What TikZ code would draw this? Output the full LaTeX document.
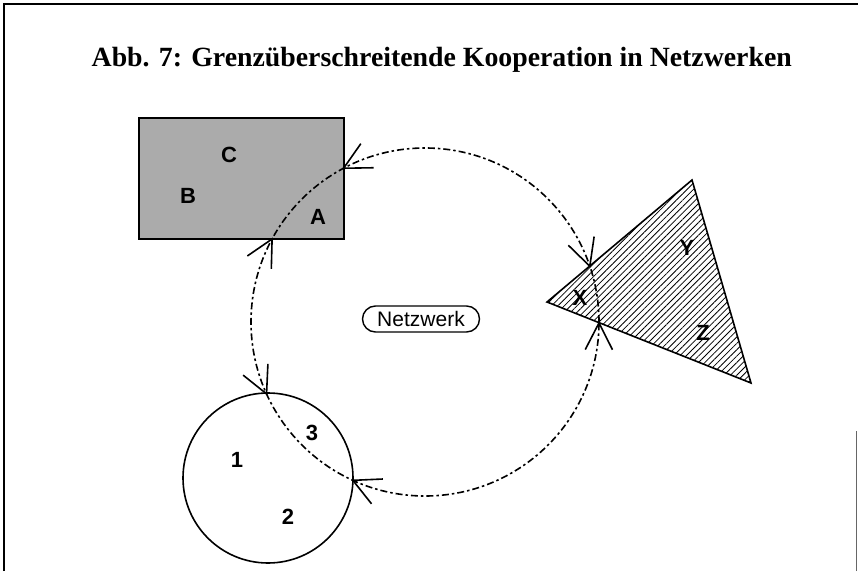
\documentclass[tikz,border=0pt]{standalone}
\usepackage{fontspec}
\usepackage{graphicx}
\setmainfont{Liberation Serif}
\setsansfont{Liberation Sans}
\usetikzlibrary{patterns.meta}
\begin{document}
\begin{tikzpicture}[x=1pt,y=1pt,
  lbl/.style={font=\sffamily\bfseries\fontsize{22}{24}\selectfont, inner sep=0pt},
  netline/.style={draw=black, line width=1.6pt, dash pattern=on 7pt off 3pt on 2.5pt off 3pt},
  barb/.style={line width=1.6pt},
  entity/.style={draw=black, line width=1.6pt},
  netbox/.style={draw=black, line width=1.4pt, rounded corners=13pt, minimum width=117pt,
     minimum height=26pt, inner sep=2pt, font=\sffamily\fontsize{21}{23}\selectfont}]
\useasboundingbox (0,0) rectangle (858,571);
% frame
\draw[line width=1.8pt] (4,0) -- (4,567) -- (858,567);
\draw[line width=0.8pt, black!60] (856.5,0) -- (856.5,140);
% title
\node[anchor=base east, inner sep=0pt, font=\bfseries\fontsize{27.8}{30}\selectfont] (title) at (792,504)
  {Abb. 7: Grenzüberschreitende Kooperation in Netzwerken};
% entities
\draw[entity, fill=black!33] (139,332) rectangle (344,453);
\draw[entity, pattern={Lines[angle=45,distance=4.5pt,line width=0.8pt]}]
  (547,269) -- (692,391) -- (751,188) -- cycle;
\draw[entity] (268,93) circle (85pt);
% network circle
\coordinate (C) at (425,249);
\draw[netline] (C) circle (174pt);
% barbs at crossings
\foreach \a/\d [count=\i] in {117.9/27.9, 151.5/-118.5, 204.4/114.4, 245.5/-24.5, 18.7/108.7, -0.3/-90.3}{
  \path (C) ++(\a:174pt) coordinate (x\i);
  \draw[barb] (x\i) ++(\d+27:30pt) -- (x\i) -- ++(\d-27:30pt);
}
% central label
\node[netbox] (netz) at (421,252) {Netzwerk};
% labels
\node[lbl] (lC) at (229,416) {C};
\node[lbl] (lB) at (188,375) {B};
\node[lbl] (lA) at (318,354) {A};
\node[lbl] (lX) at (580,273) {X};
\node[lbl] (lY) at (687,323) {Y};
\node[lbl] (lZ) at (703,238) {Z};
\node[lbl] (l1) at (237,111) {1};
\node[lbl] (l2) at (288,54) {2};
\node[lbl] (l3) at (312,138) {3};
\end{tikzpicture}
\end{document}
